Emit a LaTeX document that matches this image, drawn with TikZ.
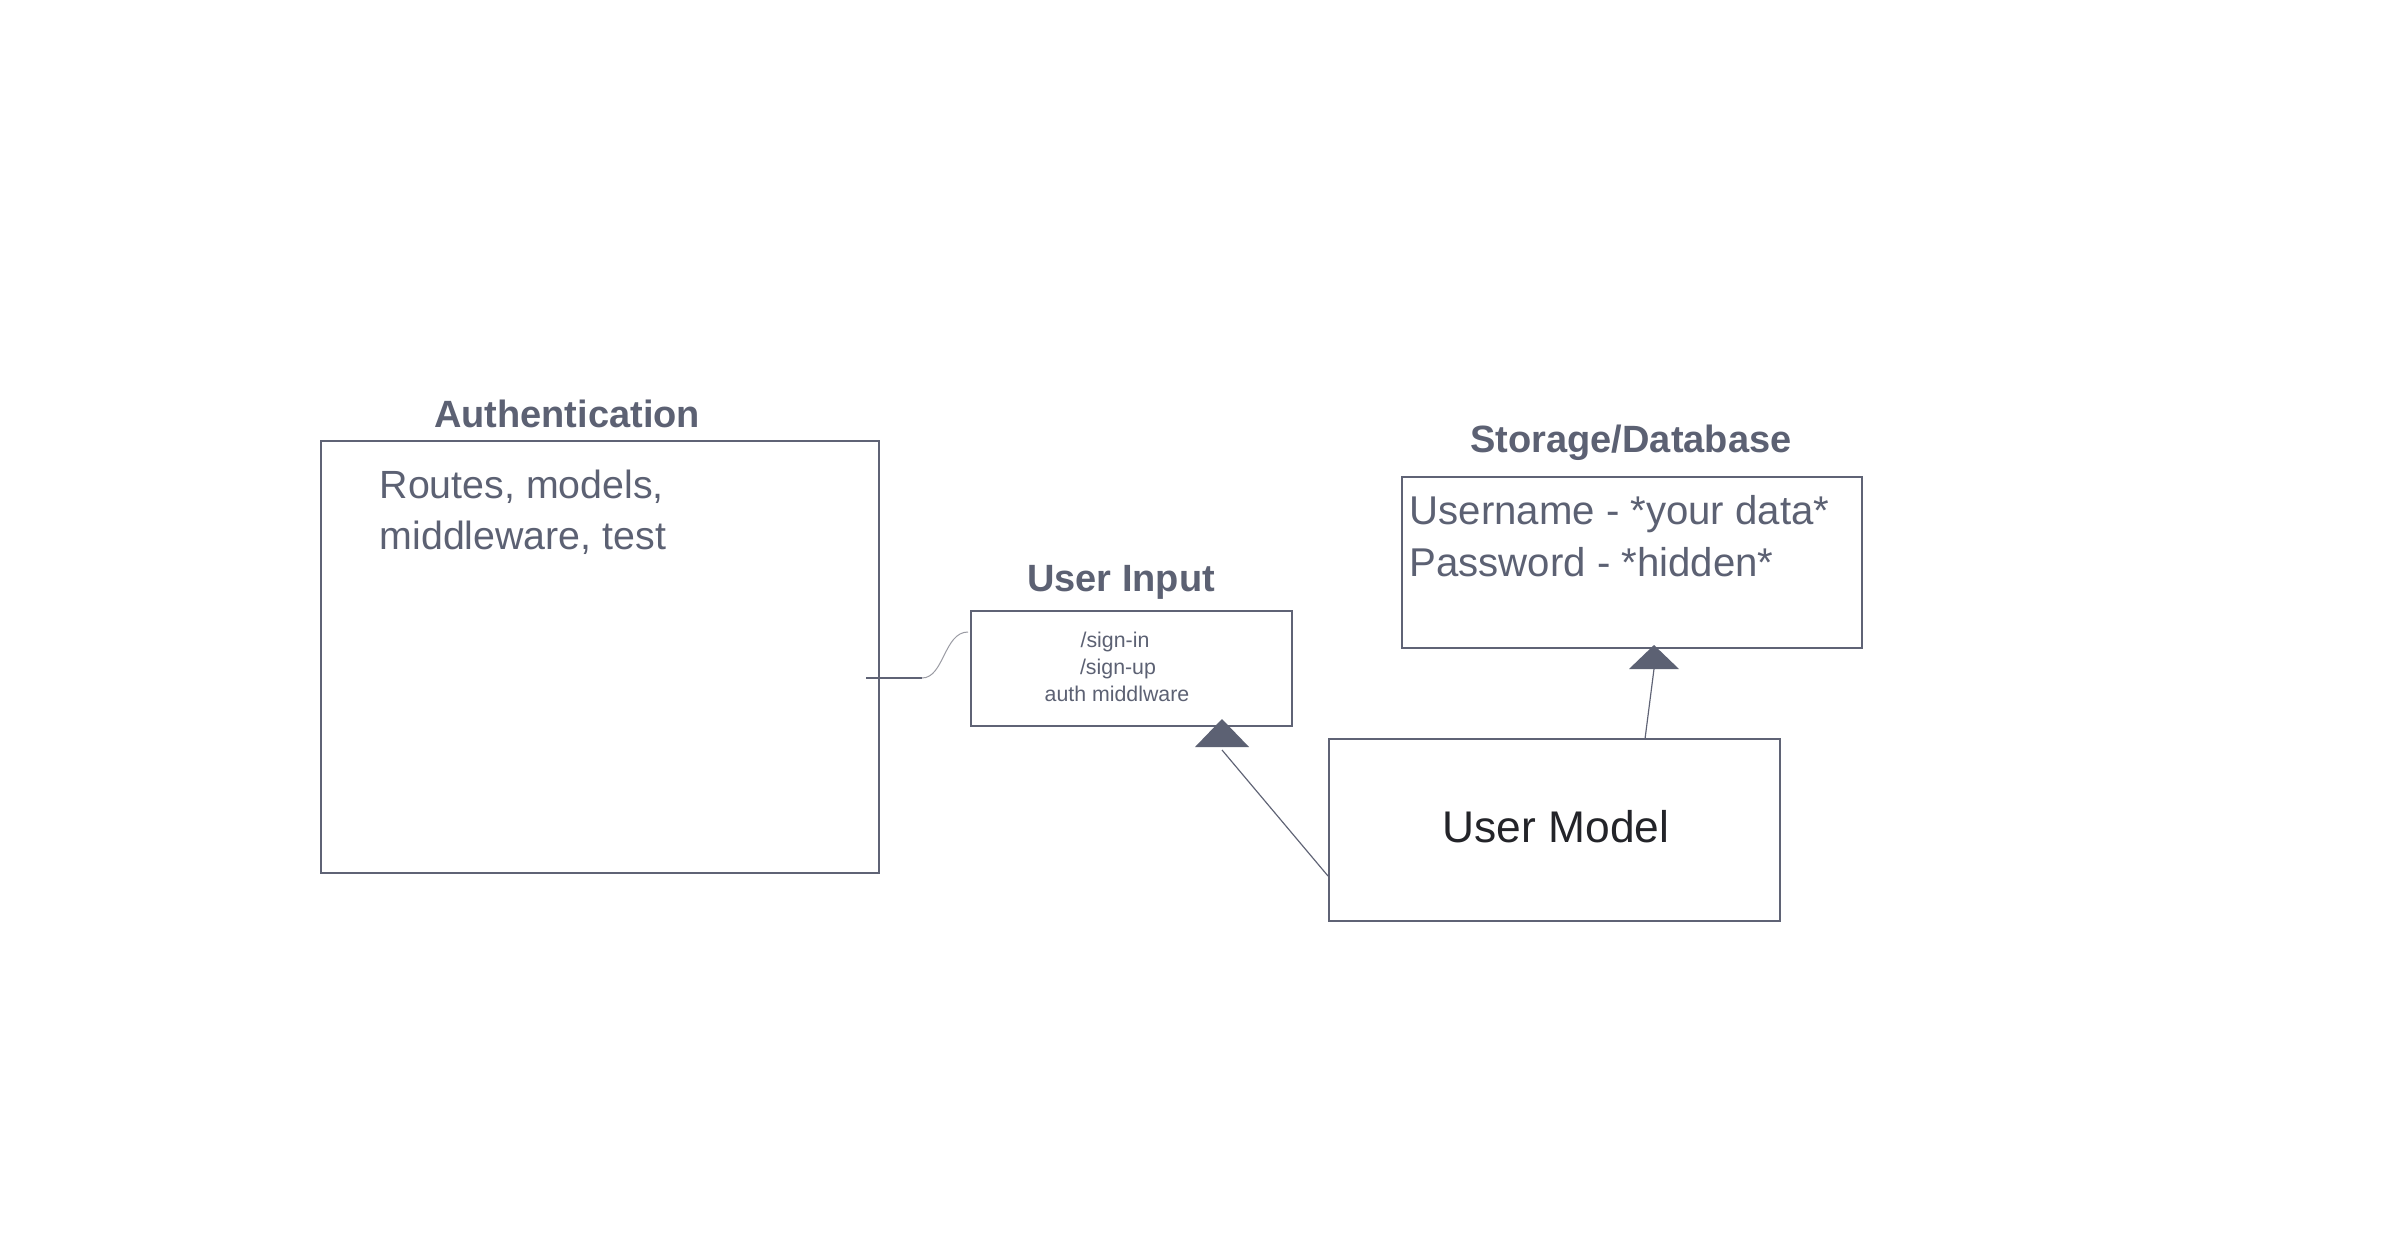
\documentclass[tikz,border=0pt]{standalone}
\usepackage{fontspec}
\usetikzlibrary{calc}
\setmainfont{Liberation Sans}
\definecolor{txtc}{HTML}{5C6173}
\definecolor{boxc}{HTML}{5F6375}
\definecolor{umc}{HTML}{232429}
\definecolor{curvec}{HTML}{9A9BA3}
\begin{document}
\begin{tikzpicture}[x=0.3pt,y=-0.3pt,
  box/.style={draw=boxc, line width=0.5pt, inner sep=0pt, fill=none},
  ttl/.style={font=\fontsize{11.4}{13}\selectfont\bfseries, text=txtc, anchor=base, inner sep=0pt},
  bigtxt/.style={font=\fontsize{11.8}{14}\selectfont, text=txtc, anchor=base west, inner sep=0pt},
  dbtxt/.style={font=\fontsize{12.05}{15}\selectfont, text=txtc, anchor=base west, inner sep=0pt},
  smalltxt/.style={font=\fontsize{6.4}{8}\selectfont, text=txtc, anchor=base, inner sep=0pt},
  conn/.style={draw=boxc, line width=0.35pt},
  softconn/.style={draw=curvec, line width=0.3pt},
  tri/.style={fill=txtc, draw=none}]
\useasboundingbox[fill=white] (0,0) rectangle (2383,1253);

% boxes
\node[box, minimum width=167.4pt, minimum height=129.6pt] (auth) at (600,657) {};
\node[box, minimum width=96.3pt, minimum height=34.5pt] (input) at (1131.5,668.5) {};
\node[box, minimum width=138pt, minimum height=51.3pt] (db) at (1632,562.5) {};
\node[box, minimum width=135.3pt, minimum height=54.6pt] (model) at (1554.5,830) {};

% titles
\node[ttl] (authT) at (567,427) {Authentication};
\node[ttl] (inputT) at (1121,591) {User Input};
\node[ttl] (dbT) at (1631,452) {Storage/Database};

% contents
\node[bigtxt] (authL1) at (379,498) {Routes, models,};
\node[bigtxt] (authL2) at (379,549) {middleware, test};
\node[smalltxt] (inL1) at (1115,647) {/sign-in};
\node[smalltxt] (inL2) at (1118,674) {/sign-up};
\node[smalltxt] (inL3) at (1117,701) {auth middlware};
\node[dbtxt] (dbL1) at (1409,524) {Username - *your data*};
\node[dbtxt] (dbL2) at (1409,576) {Password - *hidden*};
\node[font=\fontsize{13.3}{15}\selectfont, text=umc, anchor=base, inner sep=0pt] (modelT) at (1556,842) {User Model};

% connector auth -> user input
\coordinate (a1) at (866,678);
\coordinate (a2) at (922,678);
\coordinate (a3) at (968,632);
\draw[conn] (a1) -- (a2);
\draw[softconn] (a2) .. controls (944,678) and (944,632) .. (a3);

% user model -> user input
\coordinate (t1) at (1222,747);
\coordinate (t1b) at (1222,750);
\coordinate (m1) at (1328,876);
\draw[conn] (m1) -- (t1b);
\fill[tri] (t1) ++(-27,0) -- ++(27,-28) -- ++(27,28) -- cycle;

% user model -> storage
\coordinate (t2) at (1654,669);
\coordinate (m2) at (1645,739);
\draw[conn] (m2) -- (t2);
\fill[tri] (t2) ++(-25,0) -- ++(25,-24) -- ++(25,24) -- cycle;
\end{tikzpicture}
\end{document}
